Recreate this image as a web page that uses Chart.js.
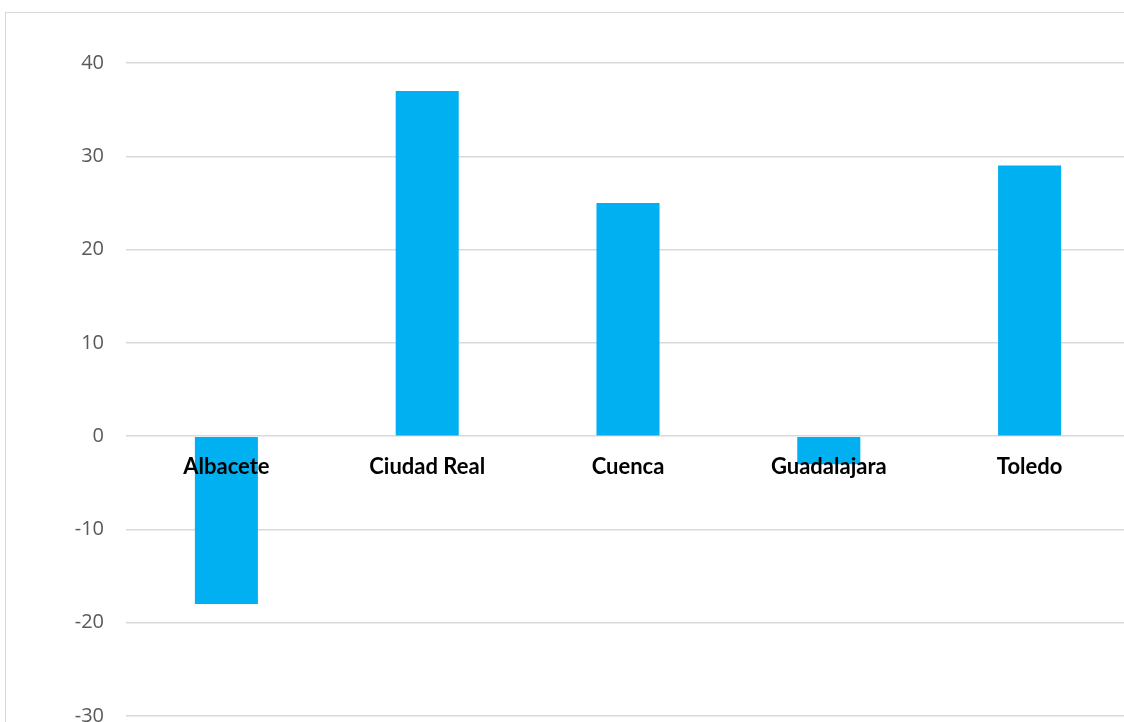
<!DOCTYPE html>
<html>
<head>
<meta charset="utf-8">
<script src="https://cdn.jsdelivr.net/npm/chart.js@4.4.1/dist/chart.umd.min.js"></script>
<style>
  html, body { margin: 0; padding: 0; background: #fff; width: 1124px; height: 722px; overflow: hidden; }
  #box { position: absolute; left: 5px; top: 12px; width: 1140px; height: 760px; border: 1px solid #d9d9d9; background: #fff; }
  #chart { position: absolute; left: 0; top: 0; }
</style>
</head>
<body>
<div id="box"><canvas id="chart" width="1124" height="740"></canvas></div>
<script>
const provinces = ['Albacete', 'Ciudad Real', 'Cuenca', 'Guadalajara', 'Toledo'];
const values = [-18, 37, 25, -3, 29];
const yMin = -30;
const yMax = 40;
const yStep = 10;

const ctx = document.getElementById('chart').getContext('2d');
const chart = new Chart(ctx, {
  type: 'bar',
  data: {
    labels: provinces,
    datasets: [{
      data: values,
      backgroundColor: '#00B0F0',
      borderWidth: 0,
      barPercentage: 0.314,
      categoryPercentage: 1
    }]
  },
  options: {
    responsive: false,
    animation: false,
    layout: { padding: { top: 50, bottom: 37, left: 0, right: 0 } },
    plugins: { legend: { display: false }, tooltip: { enabled: false } },
    scales: {
      x: {
        position: { y: 0 },
        grid: { display: false, drawTicks: false },
        border: { display: false },
        ticks: {
          z: 1,
          color: '#000000',
          padding: 18,
          maxRotation: 0,
          autoSkip: false,
          font: { family: 'Lato', size: 22, weight: 'bold' }
        },
        afterFit: s => { s.height = 0; }
      },
      y: {
        min: yMin,
        max: yMax,
        grid: { color: '#d9d9d9', lineWidth: 1.5, drawTicks: false },
        border: { display: false },
        ticks: {
          stepSize: yStep,
          color: '#595959',
          padding: 22,
          font: { family: 'Open Sans', size: 20 }
        },
        afterFit: s => { s.width = 120; }
      }
    }
  }
});
</script>
</body>
</html>
